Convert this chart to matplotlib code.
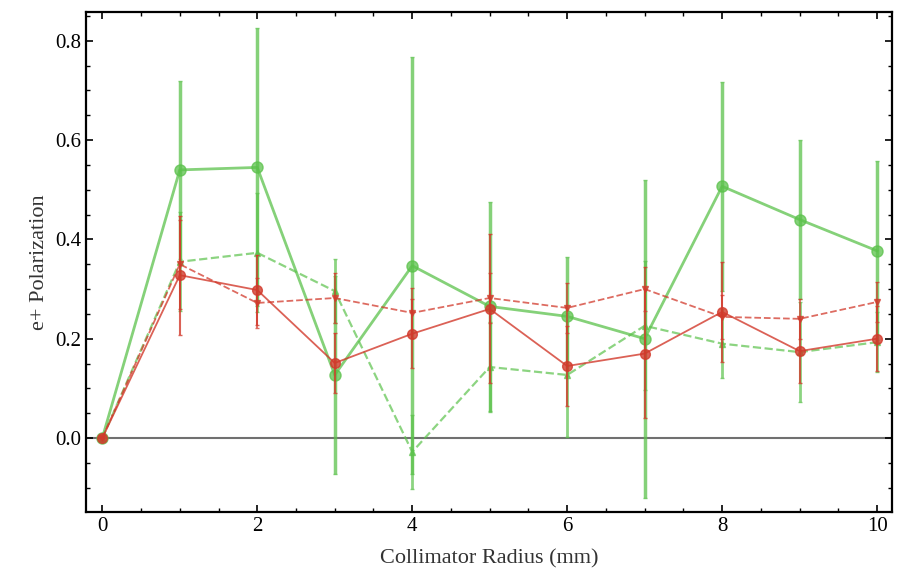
import matplotlib
matplotlib.use('Agg')
import matplotlib.pyplot as plt
from matplotlib.ticker import MultipleLocator

r = [0, 1, 2, 3, 4, 5, 6, 7, 8, 9, 10]

green_solid = [0.0, 0.54, 0.545, 0.127, 0.347, 0.265, 0.245, 0.20, 0.507, 0.44, 0.377]
green_solid_err = [0.0, 0.18, 0.28, 0.20, 0.42, 0.21, 0.12, 0.32, 0.21, 0.16, 0.18]

green_dash = [0.0, 0.355, 0.373, 0.296, -0.028, 0.143, 0.127, 0.226, 0.19, 0.173, 0.193]
green_dash_err = [0.0, 0.10, 0.12, 0.065, 0.075, 0.09, 0.125, 0.13, 0.07, 0.10, 0.06]

red_solid = [0.0, 0.328, 0.298, 0.151, 0.21, 0.26, 0.145, 0.17, 0.254, 0.175, 0.20]
red_solid_err = [0.0, 0.12, 0.07, 0.06, 0.07, 0.15, 0.08, 0.13, 0.10, 0.065, 0.065]

red_dash = [0.0, 0.35, 0.272, 0.282, 0.252, 0.282, 0.262, 0.30, 0.244, 0.24, 0.274]
red_dash_err = [0.0, 0.09, 0.05, 0.05, 0.05, 0.05, 0.05, 0.045, 0.045, 0.04, 0.04]

plt.rcParams['font.family'] = ['Liberation Serif', 'DejaVu Serif']

fig = plt.figure(figsize=(8.99, 5.73), dpi=100)
ax = fig.add_axes([0.0957, 0.1065, 0.8963, 0.8725])

ax.axhline(0, color='#707070', lw=1.5, zorder=1)

green = '#5cc24c'
red = '#d23a2c'

ax.errorbar(r, green_solid, yerr=green_solid_err, color=green, lw=2, alpha=0.75,
            marker='o', ms=8, capsize=1.5, elinewidth=2.5, zorder=3)
ax.errorbar(r, green_dash, yerr=green_dash_err, color=green, lw=1.6, ls='--', alpha=0.7,
            marker='^', ms=5, capsize=1.5, elinewidth=2, zorder=3)
ax.errorbar(r, red_solid, yerr=red_solid_err, color=red, lw=1.3, alpha=0.8,
            marker='o', ms=7, capsize=1.5, elinewidth=1.5, zorder=4)
ax.errorbar(r, red_dash, yerr=red_dash_err, color=red, lw=1.3, ls='--', alpha=0.75,
            marker='v', ms=5, capsize=1.5, elinewidth=1.3, zorder=4)

ax.set_xlim(-0.21, 10.19)
ax.set_ylim(-0.149, 0.858)
ax.set_xticks([0, 2, 4, 6, 8, 10])
ax.set_yticks([0.0, 0.2, 0.4, 0.6, 0.8])
ax.xaxis.set_minor_locator(MultipleLocator(0.5))
ax.yaxis.set_minor_locator(MultipleLocator(0.05))
ax.tick_params(which='both', direction='in', top=True, right=True, labelsize=15)
ax.tick_params(which='major', length=5, width=1.2)
ax.tick_params(which='minor', length=3, width=1)
for s in ax.spines.values():
    s.set_linewidth(1.6)

ax.set_xlabel('Collimator Radius (mm)', fontsize=16, color='#333333', labelpad=10)
ax.set_ylabel('e+ Polarization', fontsize=16, color='#333333', labelpad=4)

fig.savefig('out.png', dpi=100)
